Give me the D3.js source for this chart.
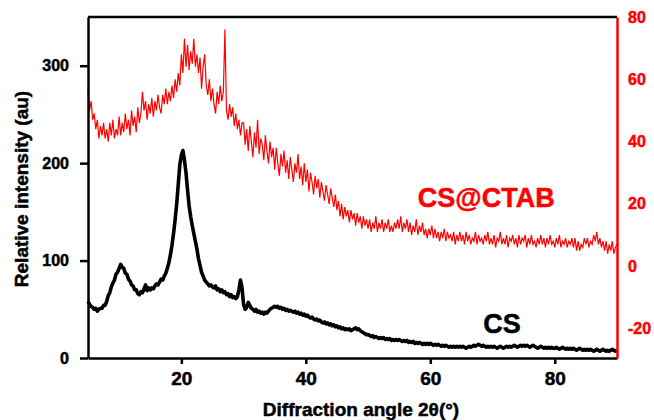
<!DOCTYPE html>
<html>
<head>
<meta charset="utf-8">
<script src="https://cdn.jsdelivr.net/npm/d3@7"></script>
<style>
	body { margin: 0; background: #fff; }
	text { font-family: "Liberation Sans", Arial, sans-serif; font-weight: bold; }
</style>
</head>
<body>
<svg id="chart" width="654" height="420"></svg>
<script>
// scan grid (degrees 2theta)
var angleStart = 5, angleStep = 0.25;

// CS, left axis (au), one row = 5 degrees
var csValues = [
	58,55,53,52,50,51,48,50,51,51,54,54,58,64,67,73,77,80,86,88,
	92,96,93,92,87,86,81,79,75,74,70,70,66,65,68,67,71,75,69,72,
	70,72,71,74,76,75,78,81,80,84,87,92,98,106,116,128,142,158,178,198,
	208,213,203,190,172,156,145,136,128,120,112,102,95,88,84,80,78,76,74,75,
	73,72,74,70,71,68,70,67,68,65,66,63,65,62,63,61,63,70,80,72,
	55,50,52,57,54,51,50,48,50,47,48,46,47,45,47,46,48,50,51,52,
	53,52,53,51,52,50,51,49,50,48,49,48,47,48,46,47,45,46,44,45,
	43,44,42,41,42,40,39,40,38,39,37,36,37,35,36,34,35,33,34,32,
	33,31,32,30,31,29,30,29,30,28,29,30,31,29,30,28,27,26,25,24,
	24,23,22,23,21,22,21,20,21,20,21,19,20,19,20,18,19,18,19,18,
	19,18,17,18,17,18,16,17,16,17,15,16,15,16,15,14,15,14,15,14,
	15,14,13,14,13,14,13,12,13,12,13,12,11,12,11,12,11,12,11,12,
	11,12,11,10,11,12,11,12,13,12,13,14,13,12,13,12,11,12,11,12,
	11,12,11,10,11,12,11,10,11,12,11,12,11,12,13,12,11,12,13,12,
	13,12,13,12,11,12,13,12,11,10,11,12,11,10,11,10,11,10,11,10,
	10,11,10,9,10,11,10,9,10,9,10,9,10,9,8,9,10,9,8,9,
	8,9,8,9,8,7,8,9,8,7,8,9,8,7,8,7,8,9,8,7,
	8
];

// CS@CTAB, right axis
var ctabValues = [
	57,50,53,47,49,44,47,41,45,42,46,41,44,40,46,42,47,41,44,42,
	48,42,46,43,49,44,47,42,50,45,48,43,51,46,49,56,50,53,47,52,
	49,54,48,53,50,55,51,49,55,52,57,52,56,53,58,54,60,56,62,58,
	68,62,73,64,71,63,69,65,73,64,68,62,67,57,64,68,58,55,60,53,
	57,52,49,56,52,58,53,56,76,50,47,52,48,51,45,49,44,47,42,46,
	46,39,44,37,45,40,35,43,38,47,36,41,39,34,42,37,33,40,35,38,
	31,38,33,29,36,32,37,30,34,28,35,31,27,33,30,36,28,32,26,33,
	27,31,24,30,27,23,29,25,28,22,27,24,21,26,23,20,25,22,19,23,
	18,21,16,20,15,19,16,18,14,18,15,17,13,17,14,16,12,16,13,15,
	12,15,11,14,12,16,11,14,12,15,11,14,12,15,11,13,11,14,12,15,
	12,16,11,14,12,15,11,14,10,13,11,15,10,13,11,14,10,12,9,12,
	10,13,9,12,9,11,8,11,9,12,8,11,9,10,8,11,7,10,8,11,
	8,10,7,11,8,10,7,9,8,11,7,10,8,9,7,10,8,11,7,9,
	7,10,6,9,8,11,7,9,7,10,6,9,8,10,7,9,6,10,7,9,
	8,10,6,9,7,10,7,8,6,9,7,10,7,9,6,9,7,10,7,8,
	6,9,7,10,6,8,7,9,6,8,7,9,6,9,5,8,5,7,6,9,
	7,9,6,8,7,10,8,11,7,9,6,8,5,8,4,7,5,8,4,6,
	7
];

var xTicks = [20, 40, 60, 80];
var leftTicks = [0, 100, 200, 300];
var rightTicks = [-20, 0, 20, 40, 60, 80];

var xDomain = [5, 90];
var leftDomain = [0, 350];
var rightDomain = [-29.5, 80];

// label anchors in data units
var ctabLabel = { text: "CS@CTAB", x: 58, y: 19 };
var csLabel = { text: "CS", x: 68.5, y: 25.5 };

var svg = d3.select("#chart");
var m = { left: 88, right: 617, top: 17, bottom: 358 };

var x = d3.scaleLinear().domain(xDomain).range([m.left, m.right]);
var yL = d3.scaleLinear().domain(leftDomain).range([m.bottom, m.top]);
var yR = d3.scaleLinear().domain(rightDomain).range([m.bottom, m.top]);

function angle(i) { return angleStart + i * angleStep; }
function plain(d) { return String(d); }	// hyphen minus, not unicode

// heavier glyphs, the source is a blurry bold raster
function heavy(t, col) {
	t.attr("stroke", col).attr("stroke-width", 0.5).attr("paint-order", "stroke");
}

// traces
var ctabLine = d3.line()
	.x(function(d, i) { return x(angle(i)); })
	.y(function(d) { return yR(d); });
var csLine = d3.line()
	.x(function(d, i) { return x(angle(i)); })
	.y(function(d) { return yL(d); });

svg.append("path")
	.datum(ctabValues)
	.attr("d", ctabLine)
	.attr("fill", "none")
	.attr("stroke", "#ff0000")
	.attr("stroke-width", 1.2);

svg.append("path")
	.datum(csValues)
	.attr("d", csLine)
	.attr("fill", "none")
	.attr("stroke", "#000")
	.attr("stroke-width", 3.6)
	.attr("stroke-linejoin", "round");

// top frame line
svg.append("line")
	.attr("x1", m.left).attr("x2", m.right)
	.attr("y1", m.top).attr("y2", m.top)
	.attr("stroke", "#000").attr("stroke-width", 2.5);

// axes
function styleAxis(g, col, size) {
	g.attr("font-family", null).attr("font-size", null);
	g.selectAll("path").attr("stroke", col).attr("stroke-width", 2.5);
	g.selectAll("line").attr("stroke", col).attr("stroke-width", 2.5);
	var t = g.selectAll("text")
		.attr("fill", col)
		.style("font-family", "'Liberation Sans', Arial, sans-serif")
		.style("font-weight", "bold")
		.style("font-size", size + "px");
	heavy(t, col);
}

var gx = svg.append("g")
	.attr("transform", "translate(0," + m.bottom + ")")
	.call(d3.axisBottom(x).tickValues(xTicks).tickFormat(plain).tickSize(6).tickSizeOuter(0).tickPadding(8));
styleAxis(gx, "#000", 19);

var gl = svg.append("g")
	.attr("transform", "translate(" + m.left + ",0)")
	.call(d3.axisLeft(yL).tickValues(leftTicks).tickFormat(plain).tickSize(8).tickSizeOuter(0).tickPadding(11));
styleAxis(gl, "#000", 16);

var gr = svg.append("g")
	.attr("transform", "translate(" + m.right + ",0)")
	.call(d3.axisRight(yR).tickValues(rightTicks).tickFormat(plain).tickSize(0).tickPadding(11));
styleAxis(gr, "#ff0000", 16);

// axis titles
heavy(svg.append("text")
	.attr("x", 361).attr("y", 416)
	.attr("text-anchor", "middle")
	.style("font-size", "19px")
	.text("Diffraction angle 2θ(°)"), "#000");

heavy(svg.append("text")
	.attr("transform", "translate(28,189) rotate(-90)")
	.attr("text-anchor", "middle")
	.style("font-size", "19px")
	.text("Relative intensity (au)"), "#000");

// series labels
heavy(svg.append("text")
	.attr("x", x(ctabLabel.x)).attr("y", yR(ctabLabel.y))
	.attr("fill", "#ff0000")
	.style("font-size", "27px")
	.text(ctabLabel.text), "#ff0000");

heavy(svg.append("text")
	.attr("x", x(csLabel.x)).attr("y", yL(csLabel.y))
	.attr("fill", "#000")
	.style("font-size", "27px")
	.text(csLabel.text), "#000");
</script>
</body>
</html>
